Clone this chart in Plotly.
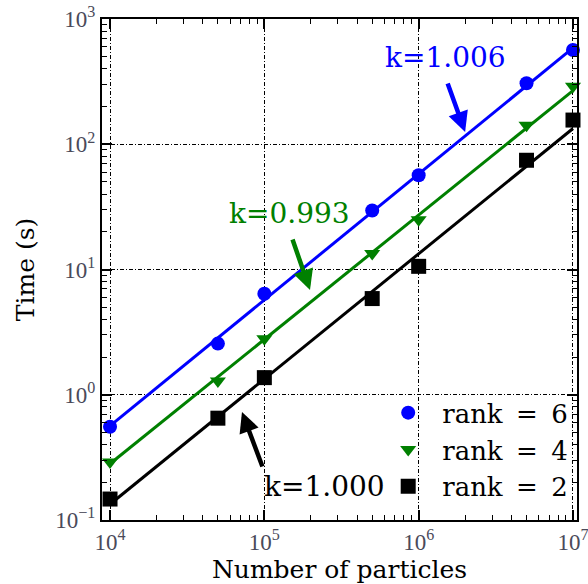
import numpy as np
import plotly.graph_objects as go

# Data
particles = [1e4, 5e4, 1e5, 5e5, 1e6, 5e6, 1e7]
time_rank6 = [0.555, 2.56, 6.4, 29.6, 56.5, 307, 565]
time_rank4 = [0.29, 1.29, 2.8, 13.4, 25.0, 142, 291]
time_rank2 = [0.147, 0.65, 1.37, 5.86, 10.6, 74.5, 156]
slopes = {"rank6": 1.006, "rank4": 0.993, "rank2": 1.000}
fit_x = [1e4, 1e7]
x_tickvals = [1e4, 1e5, 1e6, 1e7]
x_ticktext = ["10<sup>4</sup>", "10<sup>5</sup>", "10<sup>6</sup>", "10<sup>7</sup>"]
y_tickvals = [0.1, 1, 10, 100, 1000]
y_ticktext = ["10<sup>−1</sup>", "10<sup>0</sup>", "10<sup>1</sup>", "10<sup>2</sup>", "10<sup>3</sup>"]
legend_names = ["rank \u2009=\u2009 6", "rank \u2009=\u2009 4", "rank \u2009=\u2009 2"]


def minor_vals(lo, hi):
    return [m * 10.0 ** e for e in range(lo, hi) for m in range(2, 10)]


series = [
    (legend_names[0], time_rank6, slopes["rank6"], "#0000ff", "circle", 14),
    (legend_names[1], time_rank4, slopes["rank4"], "#008000", "triangle-down", 14),
    (legend_names[2], time_rank2, slopes["rank2"], "#000000", "square", 15),
]

FONT = "DejaVu Serif"
TICKFONT = "Liberation Serif"
fig = go.Figure()

# fit lines (intercept from least squares in log space with the given slope)
for name, t, k, col, sym, sz in series:
    lx = np.log10(particles)
    ly = np.log10(t)
    b = np.mean(ly - k * lx)
    fy = [10 ** (k * np.log10(v) + b) for v in fit_x]
    fig.add_trace(go.Scatter(x=fit_x, y=fy, mode="lines",
                             line=dict(color=col, width=3), showlegend=False))

for name, t, k, col, sym, sz in series:
    fig.add_trace(go.Scatter(x=particles, y=t, mode="markers", name=name, cliponaxis=False,
                             marker=dict(color=col, symbol=sym, size=sz,
                                         line=dict(width=0))))

axis_common = dict(
    type="log", showline=True, linecolor="black", linewidth=2, mirror="ticks",
    ticks="inside", ticklen=10, tickwidth=1.5, tickcolor="black",
    showgrid=True, gridcolor="black", griddash="4px,2px,1px,2px", gridwidth=1.2,
    zeroline=False, automargin=False, ticklabeloverflow="allow",
    tickfont=dict(family=TICKFONT, size=23, color="#4a4a5a"),
)

fig.update_xaxes(range=[3.948, 7.026], tickmode="array", tickvals=x_tickvals, ticktext=x_ticktext,
                 minor=dict(tickmode="array", tickvals=minor_vals(4, 7), ticks="inside", ticklen=5,
                            tickcolor="black", tickwidth=1, showgrid=False),
                 **axis_common,
                 title=dict(text="Number of particles", font=dict(family=FONT, size=25, color="black"), standoff=2))
fig.update_yaxes(range=[-1, 3], tickmode="array", tickvals=y_tickvals, ticktext=y_ticktext,
                 minor=dict(tickmode="array", tickvals=minor_vals(-1, 3), ticks="inside", ticklen=5,
                            tickcolor="black", tickwidth=1, showgrid=False),
                 **axis_common,
                 title=dict(text="Time (s)", font=dict(family=FONT, size=25, color="black"), standoff=14))

annots = [
    dict(text="k=1.006", x=6.171, y=2.689, color="#0000ff"),
    dict(text="k=0.993", x=5.163, y=1.451, color="#008000"),
    dict(text="k=1.000", x=5.387, y=-0.729, color="#000000"),
]
for a in annots:
    fig.add_annotation(text=a["text"], x=a["x"], y=a["y"], xref="x", yref="y",
                       showarrow=False, font=dict(family=FONT, size=28, color=a["color"]),
                       xanchor="center", yanchor="middle")

arrows = [
    dict(x=6.301, y=2.098, ax=-18, ay=-50, color="#0000ff"),
    dict(x=5.296, y=0.836, ax=-18, ay=-52, color="#008000"),
    dict(x=4.855, y=-0.138, ax=21, ay=56, color="#000000"),
]
for a in arrows:
    fig.add_annotation(text="", x=a["x"], y=a["y"], xref="x", yref="y",
                       showarrow=True, ax=a["ax"], ay=a["ay"], arrowcolor=a["color"],
                       arrowwidth=4.5, arrowhead=2, arrowsize=0.9)

fig.update_layout(
    width=588, height=584,
    margin=dict(l=102, r=11, t=19, b=64),
    paper_bgcolor="white", plot_bgcolor="white",
    legend=dict(x=0.992, y=0.261, xanchor="right", yanchor="top",
                bgcolor="rgba(0,0,0,0)", font=dict(family=FONT, size=26, color="black"),
                itemwidth=58, tracegroupgap=0),
)

fig.write_html("out.html")
